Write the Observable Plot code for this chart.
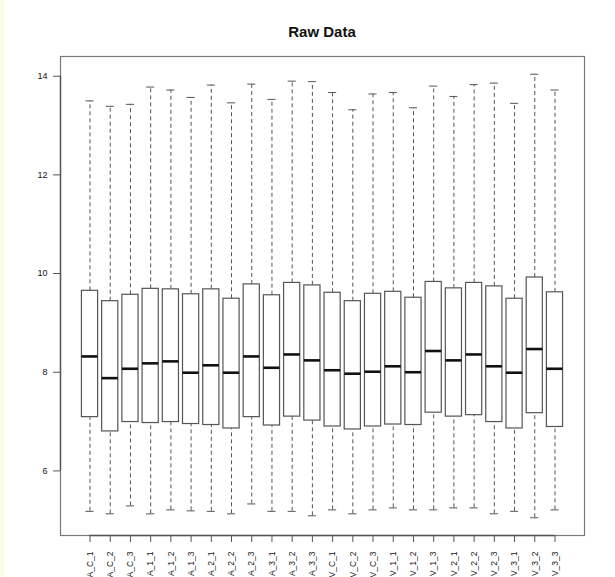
<!DOCTYPE html>
<html>
<head>
<meta charset="utf-8">
<script src="https://cdn.jsdelivr.net/npm/d3@7"></script>
<script src="https://cdn.jsdelivr.net/npm/@observablehq/plot@0.6"></script>
<style>
  html, body { margin: 0; padding: 0; background: #ffffff; }
  #wrap { position: relative; width: 615px; height: 577px; overflow: hidden; background: #fff; }
  #edge { position: absolute; left: 0; top: 0; width: 4px; height: 577px; background: #fbfbe8; }
  #title { position: absolute; top: 24px; left: 60px; width: 524px; text-align: center;
           font-family: "Liberation Sans Narrow", "Liberation Sans", Arial, sans-serif;
           font-weight: bold; font-size: 15px; color: #111; line-height: 1; }
  svg { position: absolute; left: 0; top: 0; }
</style>
</head>
<body>
<div id="wrap"><div id="edge"></div><div id="title">Raw Data</div><div id="chart"></div></div>
<script>
const samples = ["A_C_1","A_C_2","A_C_3","A_1_1","A_1_2","A_1_3","A_2_1","A_2_2","A_2_3","A_3_1","A_3_2","A_3_3",
                 "V_C_1","V_C_2","V_C_3","V_1_1","V_1_2","V_1_3","V_2_1","V_2_2","V_2_3","V_3_1","V_3_2","V_3_3"];
const whiskerLow  = [5.18,5.13,5.29,5.13,5.21,5.19,5.18,5.13,5.33,5.18,5.18,5.09,5.21,5.13,5.21,5.25,5.21,5.21,5.25,5.25,5.13,5.18,5.05,5.21];
const q1          = [7.09,6.80,6.99,6.97,6.99,6.95,6.93,6.86,7.09,6.92,7.10,7.02,6.90,6.84,6.90,6.94,6.93,7.18,7.10,7.13,6.99,6.86,7.17,6.89];
const median      = [8.32,7.88,8.07,8.18,8.22,7.99,8.14,7.99,8.32,8.09,8.36,8.24,8.04,7.97,8.01,8.12,8.00,8.43,8.24,8.36,8.12,7.99,8.47,8.07];
const q3          = [9.65,9.44,9.57,9.69,9.68,9.58,9.68,9.49,9.78,9.56,9.81,9.76,9.61,9.44,9.59,9.63,9.51,9.83,9.70,9.81,9.74,9.49,9.92,9.62];
const whiskerHigh = [13.50,13.39,13.43,13.78,13.72,13.57,13.82,13.46,13.84,13.53,13.90,13.89,13.67,13.32,13.64,13.67,13.36,13.80,13.59,13.83,13.86,13.45,14.04,13.72];
const yTicks = [6, 8, 10, 12, 14];

const data = samples.map((s, i) => ({
  name: s, pos: i + 1,
  lo: whiskerLow[i], q1: q1[i], med: median[i], q3: q3[i], hi: whiskerHigh[i]
}));

const n = samples.length;
const ymin = d3.min(whiskerLow), ymax = d3.max(whiskerHigh);
const yext = (ymax - ymin) * 0.04;
const xext = n * 0.04;
const half = 0.4, cap = 0.2;
const gray = "#555";
const font = "Liberation Sans, Arial, sans-serif";

const chart = Plot.plot({
  width: 615, height: 577,
  marginLeft: 60, marginRight: 31, marginTop: 56, marginBottom: 42,
  style: { fontFamily: font, fontSize: "9px", color: "#111", background: "transparent" },
  x: { type: "linear", domain: [0.5 - xext, n + 0.5 + xext] },
  y: { domain: [ymin - yext, ymax + yext] },
  marks: [
    Plot.frame({ stroke: "#7a7a7a", strokeWidth: 1.2 }),
    // whiskers
    Plot.ruleX(data, { x: "pos", y1: "q3", y2: "hi", stroke: gray, strokeWidth: 1, strokeDasharray: "4,3" }),
    Plot.ruleX(data, { x: "pos", y1: "lo", y2: "q1", stroke: gray, strokeWidth: 1, strokeDasharray: "4,3" }),
    // caps
    Plot.ruleY(data, { y: "hi", x1: d => d.pos - cap, x2: d => d.pos + cap, stroke: gray, strokeWidth: 1 }),
    Plot.ruleY(data, { y: "lo", x1: d => d.pos - cap, x2: d => d.pos + cap, stroke: gray, strokeWidth: 1 }),
    // boxes
    Plot.rect(data, { x1: d => d.pos - half, x2: d => d.pos + half, y1: "q1", y2: "q3",
                      fill: "white", stroke: gray, strokeWidth: 1.2 }),
    // medians
    Plot.ruleY(data, { y: "med", x1: d => d.pos - half, x2: d => d.pos + half, stroke: "#111", strokeWidth: 2.6 }),
    // axis lines over tick range (R style)
    Plot.ruleX([0], { x: () => 0.5 - xext, y1: () => yTicks[0], y2: () => yTicks[yTicks.length - 1],
                      stroke: "#555", strokeWidth: 1.4 }),
    Plot.ruleY([0], { y: () => ymin - yext, x1: () => 1, x2: () => n, stroke: "#555", strokeWidth: 1.4 }),
    Plot.axisY(yTicks, { anchor: "left", tickSize: 7, tickPadding: 6, stroke: "#555",
                         tickFormat: d => String(d), fontSize: 9, fill: "#111" }),
    Plot.axisX(d3.range(1, n + 1), { anchor: "bottom", tickSize: 7, tickPadding: 9, stroke: "#555",
                         tickRotate: -90, tickFormat: d => samples[d - 1], fontSize: 8.5, fill: "#111", label: null })
  ]
});
document.getElementById("chart").appendChild(chart);
</script>
</body>
</html>
